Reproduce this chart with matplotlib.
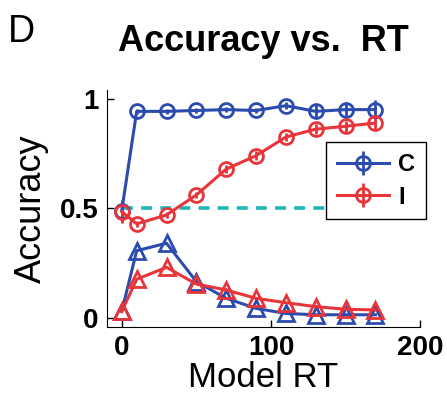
import numpy as np
import matplotlib.pyplot as plt

plt.rcParams['font.family'] = ['Liberation Sans', 'DejaVu Sans']

rt = [0, 10, 30, 50, 70, 90, 110, 130, 150, 170]

# accuracy (circles) with error bars
acc_c = [0.49, 0.942, 0.942, 0.946, 0.95, 0.946, 0.968, 0.942, 0.95, 0.95]
err_c = [0.05, 0.01, 0.01, 0.012, 0.012, 0.012, 0.015, 0.03, 0.035, 0.045]
acc_i = [0.485, 0.429, 0.47, 0.561, 0.679, 0.74, 0.825, 0.861, 0.874, 0.889]
err_i = [0.05, 0.015, 0.015, 0.015, 0.018, 0.02, 0.02, 0.022, 0.025, 0.03]

# triangles
tri_c = [0.03, 0.307, 0.341, 0.166, 0.09, 0.044, 0.021, 0.015, 0.015, 0.015]
tri_i = [0.03, 0.177, 0.231, 0.155, 0.128, 0.09, 0.07, 0.052, 0.04, 0.037]

blue = '#2B4BAE'
red = '#E8353A'
cyan = '#1FB5B5'

fig = plt.figure(figsize=(4.47, 4.03), dpi=100)
ax = fig.add_axes([0.239, 0.189, 0.701, 0.588])

ax.plot([0, 200], [0.5, 0.5], color=cyan, lw=2.6, ls=(0, (3, 2.3)), zorder=1)

ax.plot(rt, tri_c, color=blue, lw=2.2, marker='^', ms=11, mfc='none', mew=2, zorder=3)
ax.plot(rt, tri_i, color=red, lw=2.2, marker='^', ms=11, mfc='none', mew=2, zorder=3)

hc = ax.errorbar(rt, acc_c, yerr=err_c, color=blue, lw=2.2, marker='o', ms=10,
                 mfc='none', mew=2, elinewidth=2, capsize=0, zorder=4)
hi = ax.errorbar(rt, acc_i, yerr=err_i, color=red, lw=2.2, marker='o', ms=10,
                 mfc='none', mew=2, elinewidth=2, capsize=0, zorder=4)

ax.set_xlim(-10, 200)
ax.set_ylim(-0.04, 1.04)
ax.set_xticks([0, 100, 200])
ax.set_yticks([0, 0.5, 1])
ax.set_yticklabels(['0', '0.5', '1'])
ax.spines['top'].set_visible(False)
ax.spines['right'].set_visible(False)
ax.tick_params(direction='in', length=5, width=1, labelsize=20, pad=6)
for t in ax.get_xticklabels() + ax.get_yticklabels():
    t.set_fontweight('bold')

ax.set_xlabel('Model RT', fontsize=25, labelpad=0)
ax.set_ylabel('Accuracy', fontsize=26, labelpad=8)
ax.set_title('Accuracy vs.  RT', fontsize=26, fontweight='bold', pad=28)
fig.text(0.018, 0.895, 'D', fontsize=27)

leg = ax.legend([hc, hi], ['C', 'I'], loc='upper left', bbox_to_anchor=(0.70, 0.778),
                borderaxespad=0, fancybox=False, framealpha=1, edgecolor='black',
                prop={'weight': 'bold', 'size': 17}, handlelength=2.2,
                handletextpad=0.4, labelspacing=0.4, borderpad=0.45)
leg.get_frame().set_linewidth(1)
leg.set_zorder(5)

fig.savefig('out.png', dpi=100)
